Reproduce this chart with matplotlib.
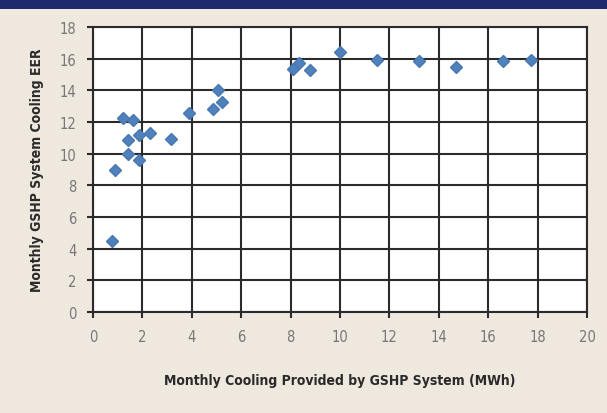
import numpy as np
import matplotlib
matplotlib.use('Agg')
import matplotlib.pyplot as plt
from matplotlib.patches import Rectangle

# monthly cooling (MWh) vs monthly EER
cooling = [0.78, 0.91, 1.22, 1.62, 1.42, 1.42, 1.86, 1.85, 2.30, 3.15, 3.89,
           4.86, 5.08, 5.24, 8.08, 8.35, 8.78, 10.0, 11.48, 13.2, 14.69, 16.58, 17.72]
eer = [4.5, 9.0, 12.25, 12.1, 10.85, 10.0, 11.15, 9.6, 11.3, 10.95, 12.55,
       12.8, 14.05, 13.25, 15.35, 15.75, 15.3, 16.45, 15.9, 15.85, 15.5, 15.85, 15.9]

xticks = np.arange(0, 21, 2)
yticks = np.arange(0, 19, 2)

plt.rcParams['font.family'] = ['DejaVu Sans']
plt.rcParams['font.stretch'] = 'condensed'

fig = plt.figure(figsize=(6.07, 4.14), dpi=100)
fig.patch.set_facecolor('#efe8de')
# navy header strip
fig.patches.append(Rectangle((0, 1 - 10/414), 1, 10/414, transform=fig.transFigure,
                             facecolor='#1f2a6e', edgecolor='none', zorder=0))

ax = fig.add_axes([93/607, 1 - 313/414, 494/607, 285/414])
ax.set_facecolor('white')

ax.plot(cooling, eer, 'D', c='#4f81bd', markersize=6, markeredgecolor='#4a78b0',
        zorder=3, clip_on=False)

ax.set_xlim(0, 20)
ax.set_ylim(0, 18)
ax.set_xticks(xticks)
ax.set_yticks(yticks)
ax.grid(True, color='#2b2b2b', linewidth=1.5)
ax.set_axisbelow(True)
for s in ax.spines.values():
    s.set_color('#2b2b2b')
    s.set_linewidth(1.5)
ax.tick_params(direction='out', length=4, width=1.5, color='#2b2b2b',
               labelcolor='#777777', labelsize=10.5, pad=8)

ax.set_xlabel('Monthly Cooling Provided by GSHP System (MWh)', fontsize=10,
              color='#2a2a2a', fontweight='bold', labelpad=21)
ax.set_ylabel('Monthly GSHP System Cooling EER', fontsize=10,
              color='#2a2a2a', fontweight='bold', labelpad=11)

fig.savefig('out.png', dpi=100, facecolor=fig.get_facecolor())
